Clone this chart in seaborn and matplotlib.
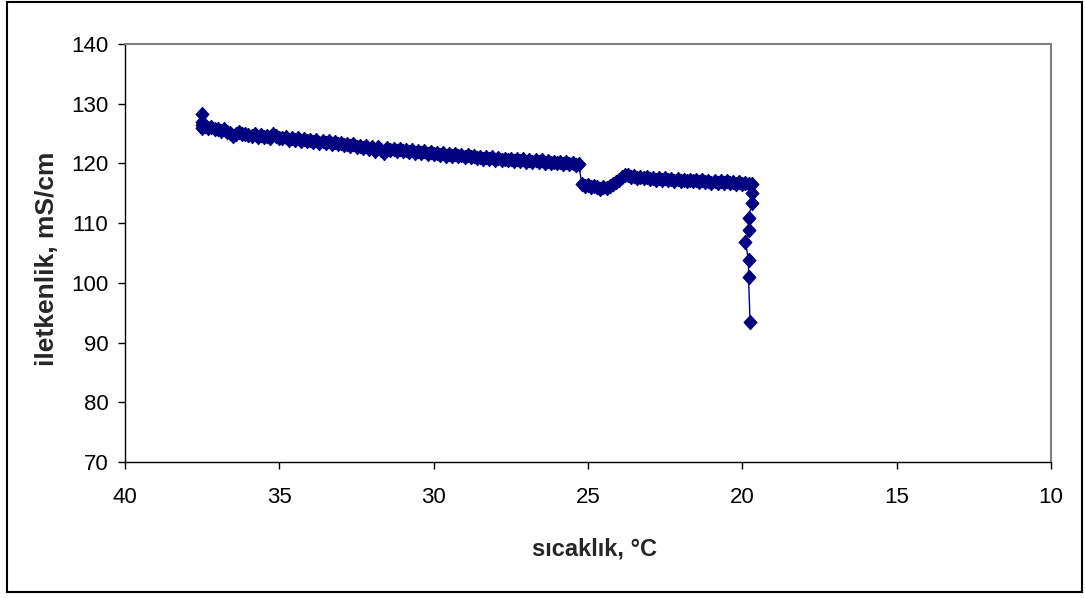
import matplotlib
matplotlib.use("Agg")
import matplotlib.pyplot as plt
import seaborn as sns
import pandas as pd
from matplotlib.patches import Rectangle

# ---- data ----
temperature = [
    37.5, 37.5, 37.5, 37.5,
    37.4, 37.3, 37.2, 37.1, 37.0, 36.9, 36.8, 36.7, 36.6, 36.5,
    36.4, 36.3, 36.2, 36.1, 36.0, 35.9, 35.8, 35.7, 35.6, 35.5,
    35.4, 35.3, 35.2, 35.1, 35.0,
    34.9, 34.8, 34.7, 34.6, 34.5, 34.4, 34.3, 34.2, 34.1, 34.0,
    33.9, 33.8, 33.7, 33.6, 33.5, 33.4, 33.3, 33.2, 33.1, 33.0,
    32.9, 32.8, 32.7, 32.6, 32.5, 32.4, 32.3, 32.2, 32.1, 32.0,
    31.9, 31.8, 31.7, 31.6, 31.5, 31.4, 31.3, 31.2, 31.1, 31.0,
    30.9, 30.8, 30.7, 30.6, 30.5, 30.4, 30.3, 30.2, 30.1, 30.0,
    29.9, 29.8, 29.7, 29.6, 29.5, 29.4, 29.3, 29.2, 29.1, 29.0,
    28.9, 28.8, 28.7, 28.6, 28.5, 28.4, 28.3, 28.2, 28.1, 28.0,
    27.9, 27.8, 27.7, 27.6, 27.5, 27.4, 27.3, 27.2, 27.1, 27.0,
    26.9, 26.8, 26.7, 26.6, 26.5, 26.4, 26.3, 26.2, 26.1, 26.0,
    25.9, 25.8, 25.7, 25.6, 25.5, 25.4, 25.3,
    25.2, 25.1, 25.0, 24.9, 24.8, 24.7, 24.6, 24.5, 24.4, 24.3,
    24.2, 24.1, 24.0, 23.9, 23.8, 23.7, 23.6, 23.5, 23.4, 23.3,
    23.2, 23.1, 23.0, 22.9, 22.8, 22.7, 22.6, 22.5, 22.4, 22.3,
    22.2, 22.1, 22.0, 21.9, 21.8, 21.7, 21.6, 21.5, 21.4, 21.3,
    21.2, 21.1, 21.0, 20.9, 20.8, 20.7, 20.6, 20.5, 20.4, 20.3,
    20.2, 20.1, 20.0, 19.9, 19.8, 19.7,
    19.7, 19.69, 19.8, 19.8, 19.9, 19.8, 19.8, 19.75,
]
conductivity = [
    126.0, 128.3, 127.0, 126.4,
    126.2, 125.9, 126.1, 125.7, 125.8, 125.5, 125.7, 125.3, 125.1, 124.6,
    125.0, 125.2, 124.9, 125.0, 124.8, 124.6, 124.9, 124.5, 124.7, 124.4,
    124.6, 124.3, 124.9, 124.6, 124.3,
    124.2, 124.5, 124.0, 124.3, 123.9, 124.2, 123.8, 124.1, 123.7, 124.0,
    123.6, 123.9, 123.5, 123.8, 123.4, 123.7, 123.3, 123.6, 123.2, 123.5,
    123.1, 123.3, 122.9, 123.2, 122.7, 123.0, 122.6, 122.9, 122.5, 122.8,
    122.0, 122.7, 122.3, 121.8, 122.6, 122.2, 122.5, 122.1, 122.4, 122.0,
    122.3, 121.9, 122.2, 121.8, 122.1, 121.7, 122.0, 121.6, 121.9, 121.5,
    121.8, 121.4, 121.7, 121.3, 121.6, 121.2, 121.5, 121.2, 121.4, 121.1,
    121.4, 121.0, 121.2, 120.9, 121.1, 120.8, 121.1, 120.7, 121.0, 120.6,
    120.9, 120.5, 120.8, 120.5, 120.8, 120.4, 120.7, 120.4, 120.7, 120.3,
    120.6, 120.3, 120.6, 120.2, 120.5, 120.1, 120.4, 120.0, 120.3, 120.0,
    120.2, 119.9, 120.2, 119.9, 120.1, 119.8, 119.9,
    116.5, 116.2, 116.4, 116.1, 116.3, 116.0, 115.8, 116.1, 115.9, 116.2,
    116.5, 116.9, 117.3, 117.7, 118.0, 118.1, 117.8, 117.9, 117.6, 117.8,
    117.5, 117.7, 117.4, 117.6, 117.3, 117.5, 117.2, 117.5, 117.2, 117.4,
    117.1, 117.4, 117.1, 117.3, 117.0, 117.3, 117.0, 117.2, 116.9, 117.2,
    116.9, 117.1, 116.8, 117.1, 116.8, 117.0, 116.7, 117.0, 116.7, 116.9,
    116.6, 116.9, 116.6, 116.8, 116.5, 116.6,
    115.0, 113.4, 110.9, 108.8, 106.8, 103.8, 101.0, 93.4,
]
x_ticks = [40, 35, 30, 25, 20, 15, 10]
y_ticks = [70, 80, 90, 100, 110, 120, 130, 140]
x_label = "sıcaklık, °C"
y_label = "iletkenlik, mS/cm"

df = pd.DataFrame({"t": temperature, "k": conductivity})

sns.set_style("white")
plt.rcParams["font.family"] = ["Liberation Sans", "DejaVu Sans"]

fig = plt.figure(figsize=(10.85, 5.98), dpi=100)
ax = fig.add_axes([0.1152, 0.2274, 0.8535, 0.699])

navy = "#000080"
diamond = [(0, 1), (0.9, 0), (0, -1), (-0.9, 0), (0, 1)]
sns.lineplot(data=df, x="t", y="k", sort=False, estimator=None, ax=ax,
             color=navy, linewidth=1.0, marker=diamond, markersize=10.5,
             markeredgecolor=navy, markeredgewidth=0.6)

ax.set_xlim(40, 10)
ax.set_ylim(70, 140)
ax.set_xticks(x_ticks)
ax.set_yticks(y_ticks)
ax.set_xticklabels([str(v) for v in x_ticks])
ax.set_yticklabels([str(v) for v in y_ticks])

for side in ["left", "bottom"]:
    ax.spines[side].set_color("black")
    ax.spines[side].set_linewidth(1.0)
for side in ["top", "right"]:
    ax.spines[side].set_color("#808080")
    ax.spines[side].set_linewidth(1.5)

ax.tick_params(axis="both", direction="out", length=5, width=1.0,
               colors="black", labelsize=16)
ax.tick_params(axis="x", pad=13, bottom=True)
ax.tick_params(axis="y", pad=7, left=True)

ax.set_xlabel(x_label, fontsize=17, fontweight="bold")
ax.set_ylabel(y_label, fontsize=19, fontweight="bold")
ax.xaxis.set_label_coords(0.5075, -0.18)
ax.yaxis.set_label_coords(-0.071, 0.485)

fig.patches.append(Rectangle((6.5 / 1085, 1 - 592 / 598), (1082 - 6.5) / 1085,
                             (592 - 2) / 598, transform=fig.transFigure,
                             fill=False, edgecolor="black", linewidth=1.5))

fig.savefig("out.png", dpi=100)
